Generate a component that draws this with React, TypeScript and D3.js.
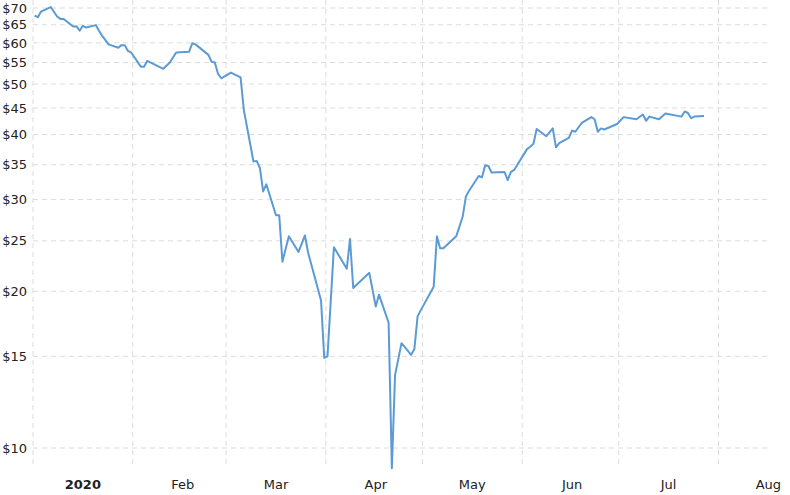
import React from "react";
import * as d3 from "d3";

const dates: string[] = [
  "2020-01-01","2020-01-02","2020-01-03","2020-01-06","2020-01-08","2020-01-09","2020-01-10",
  "2020-01-13","2020-01-14","2020-01-15","2020-01-16","2020-01-17","2020-01-20","2020-01-21",
  "2020-01-22","2020-01-24","2020-01-27","2020-01-28","2020-01-29","2020-01-30","2020-01-31",
  "2020-02-03","2020-02-04","2020-02-05","2020-02-10","2020-02-12","2020-02-14","2020-02-18",
  "2020-02-19","2020-02-20","2020-02-24","2020-02-25","2020-02-26","2020-02-27","2020-02-28",
  "2020-03-02","2020-03-05","2020-03-06","2020-03-09","2020-03-10","2020-03-11","2020-03-12",
  "2020-03-13","2020-03-16","2020-03-17","2020-03-18","2020-03-20","2020-03-23","2020-03-25",
  "2020-03-26","2020-03-30","2020-03-31","2020-04-01","2020-04-03","2020-04-07","2020-04-08",
  "2020-04-09","2020-04-14","2020-04-16","2020-04-17","2020-04-20","2020-04-21","2020-04-22",
  "2020-04-24","2020-04-27","2020-04-28","2020-04-29","2020-04-30","2020-05-04","2020-05-05",
  "2020-05-06","2020-05-07","2020-05-11","2020-05-13","2020-05-14","2020-05-15","2020-05-18",
  "2020-05-19","2020-05-20","2020-05-21","2020-05-22","2020-05-26","2020-05-27","2020-05-28",
  "2020-05-29","2020-06-02","2020-06-03","2020-06-04","2020-06-05","2020-06-08","2020-06-10",
  "2020-06-11","2020-06-12","2020-06-15","2020-06-16","2020-06-17","2020-06-19","2020-06-22",
  "2020-06-23","2020-06-24","2020-06-25","2020-06-26","2020-06-30","2020-07-02","2020-07-06",
  "2020-07-08","2020-07-09","2020-07-10","2020-07-13","2020-07-15","2020-07-20","2020-07-21",
  "2020-07-22","2020-07-23","2020-07-24","2020-07-27"
];

const prices: number[] = [
  67.7, 67.2, 68.9, 70.3, 67.4, 66.7, 66.7,
  64.5, 64.6, 63.3, 64.7, 64.2, 64.9, 63.3,
  61.9, 59.6, 58.7, 59.4, 59.4, 57.9, 57.5,
  54.0, 54.0, 55.4, 53.5, 55.0, 57.5, 57.7,
  59.9, 59.6, 56.9, 55.2, 55.0, 52.3, 51.3,
  52.6, 51.5, 44.6, 35.5, 35.6, 34.5, 31.1,
  32.1, 28.0, 28.0, 22.8, 25.5, 23.8, 25.6,
  23.7, 19.2, 14.9, 15.0, 24.3, 22.1, 25.2,
  20.3, 21.7, 18.7, 19.7, 17.4, 9.14, 13.8,
  15.9, 15.1, 15.5, 17.9, 18.4, 20.4, 25.5,
  24.2, 24.2, 25.5, 27.8, 30.4, 31.2, 33.3,
  33.1, 34.9, 34.8, 33.8, 33.9, 32.7, 33.9,
  34.2, 37.5, 37.9, 38.4, 41.0, 39.7, 41.1,
  37.8, 38.5, 39.4, 40.7, 40.5, 42.1, 43.2,
  42.8, 40.5, 41.1, 40.9, 41.9, 43.2, 42.8,
  43.7, 42.5, 43.3, 42.8, 43.9, 43.3, 44.3,
  44.0, 43.0, 43.3, 43.4
];

const yTicks: number[] = [10, 15, 20, 25, 30, 35, 40, 45, 50, 55, 60, 65, 70];
const monthStarts: string[] = [
  "2020-01-01","2020-02-01","2020-03-01","2020-04-01","2020-05-01","2020-06-01","2020-07-01","2020-08-01"
];
const monthLabels: string[] = ["2020", "Feb", "Mar", "Apr", "May", "Jun", "Jul", "Aug"];

const W = 790;
const H = 495;
const left = 33;
const right = 770;
const plotTop = 0;
const plotBottom = 468;
const DAY = 86400000;

export default function App() {
  const parse = (s: string) => {
    const [y, m, d] = s.split("-").map(Number);
    return new Date(Date.UTC(y, m - 1, d));
  };
  const x = d3
    .scaleUtc()
    .domain([parse("2020-01-01"), parse("2020-08-17")])
    .range([left, right]);
  const y = d3.scaleLog().domain([10, 70]).range([448, 8]);

  const data = dates.map((d, i) => ({ t: new Date(parse(d).getTime() + DAY / 2), v: prices[i] }));
  const line = d3
    .line<{ t: Date; v: number }>()
    .x((d) => x(d.t))
    .y((d) => y(d.v));

  const font = "'DejaVu Sans', Verdana, sans-serif";

  return (
    <svg
      width={W}
      height={H}
      style={{ position: "absolute", left: 0, top: 0, background: "#fff" }}
    >
      <g>
        {yTicks.map((t) => (
          <line
            key={"h" + t}
            x1={left}
            x2={right}
            y1={y(t)}
            y2={y(t)}
            stroke="#dcdcdc"
            strokeWidth={1}
            strokeDasharray="5,4"
          />
        ))}
        {monthStarts.map((m) => (
          <line
            key={"v" + m}
            x1={x(parse(m))}
            x2={x(parse(m))}
            y1={plotTop}
            y2={plotBottom}
            stroke="#dcdcdc"
            strokeWidth={1}
            strokeDasharray="5,4"
          />
        ))}
      </g>
      <g fontFamily={font} fontSize={13} fill="#222">
        {yTicks.map((t) => (
          <text key={"yl" + t} x={27} y={y(t)} dy="0.36em" textAnchor="end">
            {"$" + t}
          </text>
        ))}
        {monthStarts.map((m, i) => (
          <text
            key={"xl" + m}
            x={x(new Date(parse(m).getTime() + 15.5 * DAY))}
            y={489}
            textAnchor="middle"
            fontWeight={i === 0 ? "bold" : "normal"}
          >
            {monthLabels[i]}
          </text>
        ))}
      </g>
      <path d={line(data) || ""} fill="none" stroke="#5b9bd5" strokeWidth={2} strokeLinejoin="round" />
    </svg>
  );
}
